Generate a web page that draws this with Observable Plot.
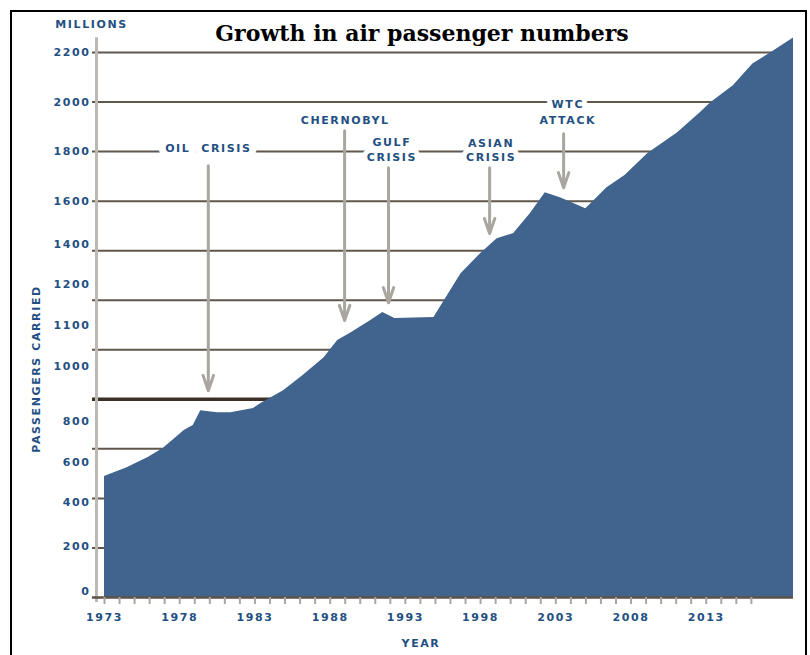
<!DOCTYPE html>
<html><head><meta charset="utf-8">
<script src="https://cdn.jsdelivr.net/npm/d3@7"></script>
<script src="https://cdn.jsdelivr.net/npm/@observablehq/plot@0.6"></script>
<style>
body{margin:0;background:#fff;overflow:hidden;}
#wrap{position:relative;width:810px;height:655px;overflow:hidden;}
#border{position:absolute;left:10px;top:10px;width:797px;height:720px;border:2.5px solid #000;pointer-events:none;box-sizing:border-box;}
#wrap svg text{letter-spacing:1.6px;white-space:pre;}
#wrap svg g[font-family="DejaVu Serif"] text{letter-spacing:0;}
</style></head><body><div id="wrap"><div id="border"></div></div>
<script>
// Area series (year, millions of passengers)
const years = [1973.0, 1974.5, 1975.9, 1976.9, 1978.3, 1978.9, 1979.4, 1980.5, 1981.4, 1982.9, 1983.4, 1984.9, 1986.2, 1987.6, 1988.5, 1989.4, 1990.7, 1991.5, 1992.3, 1994.9, 1995.3, 1996.7, 1998.0, 1999.1, 2000.2, 2001.3, 2002.3, 2003.3, 2005.0, 2006.4, 2007.6, 2009.1, 2011.1, 2012.6, 2013.3, 2014.8, 2016.1, 2017.5, 2018.8];
const passengers = [488, 524, 565, 601, 674, 694, 754, 746, 746, 763, 783, 835, 896, 968, 1037, 1069, 1118, 1150, 1126, 1130, 1170, 1307, 1388, 1448, 1469, 1549, 1634, 1614, 1569, 1654, 1703, 1791, 1876, 1957, 1997, 2066, 2154, 2207, 2259];

// Gridlines and axis labels
const gridValues = [200, 400, 600, 1000, 1200, 1400, 1600, 1800, 2000, 2200];
const thickGrid = [800];
const yLabels = ["0", "200", "400", "600", "800", "1000", "1100", "1200", "1400", "1600", "1800", "2000", "2200"];
const yLabelAt = [24, 206, 383, 545, 710, 932, 1097, 1263, 1426, 1600, 1800, 2000, 2200];
const xLabelYears = [1973, 1978, 1983, 1988, 1993, 1998, 2003, 2008, 2013];
const xTickYears = d3.range(1973, 2017);

// Annotations
const oilText = ["OIL  CRISIS"];
const oilYear = 1979.9, oilValue = 1811;
const annText = ["CHERNOBYL", "GULF", "CRISIS", "ASIAN", "CRISIS", "WTC", "ATTACK"];
const annYear = [1989.0, 1992.1, 1992.1, 1998.7, 1998.7, 2003.8, 2003.8];
const annValue = [1926, 1836, 1775, 1832, 1775, 1989, 1926];
const arrowYear = [1979.9, 1988.96, 1991.88, 1998.6, 2003.52];
const arrowFrom = [1743, 1884, 1735, 1735, 1872];
const arrowTo = [835, 1118, 1190, 1469, 1654];

const series = years.map((y, i) => ({year: y, value: passengers[i]}));
const ann = annText.map((t, i) => ({t, x: annYear[i], y: annValue[i]}));
const arrows = arrowYear.map((x, i) => ({x, y1: arrowFrom[i], y2: arrowTo[i]}));
const yl = yLabels.map((t, i) => ({t, y: yLabelAt[i]}));

const BLUE = "#234f82";
const txt = {fontFamily: "DejaVu Sans", fontWeight: "bold", fontSize: 11, fill: BLUE};

const chart = Plot.plot({
  width: 810, height: 655,
  marginLeft: 104, marginRight: 17, marginTop: 52, marginBottom: 58,
  x: {domain: [1973, 2018.8], axis: null},
  y: {domain: [0, 2200], axis: null},
  style: {background: "transparent", fontFamily: "DejaVu Sans"},
  marks: [
    Plot.ruleY(gridValues, {stroke: "#62574c", strokeWidth: 2, insetLeft: -12}),
    Plot.ruleY(thickGrid, {stroke: "#3b3026", strokeWidth: 3.5, insetLeft: -12}),
    Plot.ruleX([1973], {y1: -20, y2: 2260, dx: -8, stroke: "#bdb8b1", strokeWidth: 3}),
    Plot.areaY(series, {x: "year", y: "value", fill: "#40648e"}),
    Plot.ruleY([0], {stroke: "#5d5247", strokeWidth: 2.5, insetLeft: -12}),
    Plot.axisX({ticks: xTickYears, tickSize: 7, tickFormat: () => "", color: "#aaa59e", strokeWidth: 2}),
    Plot.arrow(arrows, {x1: "x", x2: "x", y1: "y1", y2: "y2", stroke: "#a9a69f", strokeWidth: 3, headLength: 8, headAngle: 38}),
    Plot.text(oilText, {x: () => oilYear, y: () => oilValue, text: d => d, ...txt, stroke: "white", strokeWidth: 14}),
    Plot.text(ann, {x: "x", y: "y", text: "t", ...txt, stroke: "white", strokeWidth: 10}),
    Plot.text(yl, {y: "y", text: "t", frameAnchor: "left", dx: -14, textAnchor: "end", ...txt}),
    Plot.text(xLabelYears, {x: d => d, text: d => String(d), frameAnchor: "bottom", dy: 23, ...txt}),
    Plot.text(["MILLIONS"], {text: d => d, frameAnchor: "top-left", textAnchor: "middle", dx: -13, dy: -32, ...txt}),
    Plot.text(["YEAR"], {text: d => d, frameAnchor: "bottom", dx: -28, dy: 49, ...txt}),
    Plot.text(["PASSENGERS CARRIED"], {text: d => d, frameAnchor: "left", textAnchor: "middle", dx: -68, dy: 44, rotate: -90, ...txt}),
    Plot.text(["Growth in air passenger numbers"], {text: d => d, frameAnchor: "top", dx: -27, dy: -27, fontFamily: "DejaVu Serif", fontWeight: "bold", fontSize: 22, fill: "#000"})
  ]
});
document.getElementById("wrap").prepend(chart);
</script>
</body></html>
